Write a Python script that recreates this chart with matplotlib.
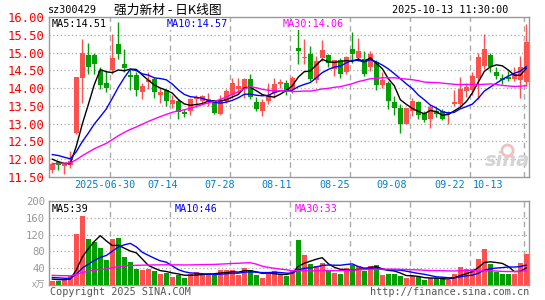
#强力新材 日K线图 (sina 风格)

import numpy as np
import pandas as pd
import matplotlib.pyplot as plt

# datos: 2025-06-16 .. 2025-10-13 (80 dias)
opens = [11.70, 11.92, 11.82, 11.84, 12.75, 14.28, 14.92, 14.92, 14.48, 14.15,
         14.51, 15.24, 14.69, 14.37, 14.37, 13.90, 14.17, 14.27, 13.82, 13.94,
         13.54, 13.65, 13.34, 13.35, 13.70, 13.64, 13.61, 13.64, 13.27, 13.64,
         13.82, 13.97, 13.97, 14.25, 13.62, 13.35, 13.64, 13.87, 14.11, 14.15,
         13.97, 15.14, 14.84, 14.95, 14.24, 14.86, 14.93, 14.53, 14.78, 14.45,
         15.10, 14.86, 14.83, 14.58, 14.74, 14.08, 14.15, 13.62, 13.43, 13.00,
         13.37, 13.61, 13.31, 13.12, 13.35, 13.37, 13.26, 13.56, 13.54, 13.92,
         13.95, 14.29, 14.62, 14.93, 14.44, 14.29, 14.31, 14.25, 14.22, 14.18]
highs = [11.92, 11.96, 11.90, 12.22, 14.32, 15.37, 15.26, 15.00, 14.58, 14.48,
         15.52, 15.85, 15.10, 14.53, 14.44, 14.15, 14.46, 14.30, 14.01, 13.97,
         13.82, 13.68, 13.40, 13.73, 13.80, 13.80, 13.86, 13.66, 13.82, 13.97,
         14.28, 14.29, 14.29, 14.41, 13.75, 13.68, 14.15, 14.29, 14.25, 14.22,
         14.34, 15.78, 15.38, 15.19, 14.91, 15.35, 14.95, 14.80, 14.84, 14.91,
         15.57, 15.42, 15.05, 15.05, 14.78, 14.44, 14.20, 13.78, 13.54, 13.45,
         13.71, 13.65, 13.35, 13.52, 13.47, 13.40, 13.35, 13.95, 14.32, 14.15,
         14.44, 15.00, 15.51, 15.00, 14.58, 14.39, 14.48, 14.58, 14.91, 15.80]
lows = [11.62, 11.70, 11.58, 11.76, 12.72, 13.59, 14.39, 14.41, 13.98, 13.90,
        14.39, 14.81, 14.46, 13.94, 13.78, 13.69, 13.97, 13.73, 13.59, 13.50,
        13.43, 13.12, 13.18, 13.23, 13.47, 13.58, 13.49, 13.26, 13.25, 13.58,
        13.73, 13.87, 13.73, 13.68, 13.35, 13.21, 13.56, 13.73, 14.01, 13.80,
        13.87, 14.69, 14.69, 14.20, 14.14, 14.77, 14.60, 14.34, 14.28, 14.39,
        14.72, 14.77, 14.34, 14.48, 13.94, 14.01, 13.40, 13.24, 12.74, 12.98,
        13.21, 13.12, 13.05, 12.88, 13.19, 13.10, 12.99, 13.50, 13.49, 13.74,
        13.82, 13.70, 14.55, 14.44, 14.25, 14.11, 14.20, 14.20, 13.71, 14.06]
closes = [11.86, 11.85, 11.86, 11.96, 14.30, 14.98, 14.58, 14.67, 14.08, 13.99,
          14.86, 14.95, 14.56, 14.32, 13.94, 14.07, 14.22, 13.90, 13.88, 13.64,
          13.66, 13.32, 13.28, 13.68, 13.76, 13.77, 13.70, 13.31, 13.66, 13.92,
          14.15, 14.06, 14.25, 13.75, 13.42, 13.62, 13.82, 14.12, 14.17, 13.92,
          14.29, 15.05, 14.88, 14.27, 14.77, 15.07, 14.72, 14.78, 14.41, 14.88,
          14.97, 15.05, 14.41, 14.97, 14.08, 14.22, 13.64, 13.43, 13.00, 13.43,
          13.64, 13.23, 13.09, 13.47, 13.26, 13.14, 13.33, 13.61, 13.98, 14.04,
          14.35, 14.87, 15.11, 14.60, 14.34, 14.22, 14.27, 14.39, 14.58, 15.31]
# volumen en 万
volumes = [10, 10, 15, 21, 122, 165, 109, 102, 89, 60,
           110, 112, 67, 55, 39, 36, 37, 33, 26, 29,
           19, 25, 17, 27, 31, 25, 28, 23, 35, 36,
           36, 23, 40, 35, 23, 17, 27, 33, 27, 21,
           34, 107, 71, 50, 45, 52, 35, 29, 26, 40,
           47, 45, 33, 45, 47, 23, 26, 26, 21, 16,
           21, 18, 12, 16, 16, 14, 13, 26, 43, 39,
           37, 63, 86, 51, 31, 26, 26, 26, 53, 74]

# historia previa estimada (solo para arrancar las medias moviles)
prev_close = [11.60, 11.65, 11.70, 11.62, 11.58, 11.66, 11.72, 11.80, 11.75, 11.70,
              11.68, 11.74, 11.80, 11.85, 11.78, 11.82, 11.88, 11.84, 11.80, 11.90,
              12.10, 12.35, 12.40, 12.30, 12.15, 12.20, 12.10, 12.00, 11.84]
prev_vol = [28, 24, 30, 26, 22, 27, 25, 29, 23, 26, 24, 28, 25, 22, 27, 26, 24, 25, 23, 26,
            20, 25, 24, 22, 19, 16, 15, 14, 15]

date_ticks = [10, 20, 30, 40, 50, 60, 70, 79]
date_labels = ['2025-06-30', '07-14', '07-28', '08-11', '08-25', '09-08', '09-22', '10-13']
price_ticks = [11.5, 12.0, 12.5, 13.0, 13.5, 14.0, 14.5, 15.0, 15.5, 16.0]
vol_ticks = [40, 80, 120, 160, 200]
ma_price_txt = ['MA5:14.51', 'MA10:14.57', 'MA30:14.06']
ma_vol_txt = ['MA5:39', 'MA10:46', 'MA30:33']

# posiciones de las etiquetas de fecha (en indices), como en la imagen
date_label_x = [8.8, 18.4, 27.9, 37.45, 47.1, 56.6, 66.3, 72.6]

ROJO = '#ff5050'
VERDE = '#00a000'
ma_colores = ['black', '#0000ff', '#ff00ff']
GRIS = '#999999'
MONO = 'DejaVu Sans Mono'
CJK = ['Noto Sans CJK SC', 'DejaVu Sans']

n = len(closes)
x = np.arange(n)
o = np.array(opens); c = np.array(closes); h = np.array(highs); l = np.array(lows)
v = np.array(volumes)
sube = c >= o
col = np.where(sube, ROJO, VERDE)

cc = pd.Series(prev_close + closes)
vv = pd.Series(prev_vol + volumes)
k = len(prev_close)
ma_p = [cc.rolling(w, min_periods=1).mean().values[k:] for w in (5, 10, 30)]
ma_v = [vv.rolling(w, min_periods=1).mean().values[k:] for w in (5, 10, 30)]

fig = plt.figure(figsize=(5.45, 3.0), dpi=100)
fig.patch.set_facecolor('white')
izq, ancho = 49 / 545, 480 / 545
ax = fig.add_axes([izq, 1 - 177 / 300, ancho, 160 / 300])
axv = fig.add_axes([izq, 1 - 285 / 300, ancho, 84 / 300])

for a in (ax, axv):
    a.set_xlim(-0.55, n - 0.55)
    for s in a.spines.values():
        s.set_color(GRIS)
        s.set_linewidth(1)
    a.tick_params(length=0)
    a.set_xticks([])
    for d in date_ticks:
        a.axvline(d - 0.38, color='#aaaaaa', lw=1, ls=(0, (4, 3)), zorder=0)

# ---- precio
ax.set_ylim(11.5, 16.0)
ax.set_yticks(price_ticks)
ax.set_yticklabels(['%.2f' % t for t in price_ticks], color='red', family=MONO, fontsize=8.8)
ax.tick_params(axis='y', pad=3)
for t in price_ticks[1:-1]:
    ax.axhline(t, color='#aaaaaa', lw=0.9, ls=(0, (1, 2)), zorder=0)

ax.vlines(x, l, h, colors=col, lw=1, zorder=2)
cuerpo = np.maximum(np.abs(c - o), 0.02)
ax.bar(x, cuerpo, bottom=np.minimum(o, c), width=0.75, color=col, lw=0, zorder=3)
for m, cl in zip(ma_p, ma_colores):
    ax.plot(x, m, color=cl, lw=1, zorder=4)

for txt, cl, px in zip(ma_price_txt, ma_colores, [52, 167, 283]):
    ax.text((px - 49) / 480, 0.985, txt, transform=ax.transAxes, color=cl,
            family=MONO, fontsize=7.3, va='top', ha='left', zorder=6,
            bbox=dict(fc='white', ec='none', pad=0.3))

ax.text(0.955, 0.105, 'sina', transform=ax.transAxes, color='#d4d4d4',
        fontsize=14, fontweight='bold', style='italic', ha='center', va='center', zorder=1)
ax.plot([0.955], [0.17], 'o', transform=ax.transAxes, ms=8, mfc='none',
        mec='#f0c0c0', mew=2, zorder=1)

for d, lab in zip(date_label_x, date_labels):
    ax.text(d, -0.02, lab, transform=ax.get_xaxis_transform(), color='#0080c8',
            family=MONO, fontsize=7.3, ha='center', va='top')

# ---- volumen
axv.set_ylim(0, 200)
axv.set_yticks(vol_ticks)
axv.set_yticklabels([str(t) for t in vol_ticks], color=GRIS, family=MONO, fontsize=7.6)
axv.tick_params(axis='y', pad=3)
for t in vol_ticks[:-1]:
    axv.axhline(t, color='#aaaaaa', lw=0.9, ls=(0, (1, 2)), zorder=0)
axv.bar(x, v, width=0.83, color=col, lw=0, zorder=3)
for m, cl in zip(ma_v, ma_colores):
    axv.plot(x, m, color=cl, lw=1, zorder=4)
for txt, cl, px in zip(ma_vol_txt, ma_colores, [52, 175, 295]):
    axv.text((px - 49) / 480, 0.97, txt, transform=axv.transAxes, color=cl,
             family=MONO, fontsize=7.3, va='top', ha='left', zorder=6,
             bbox=dict(fc='white', ec='none', pad=0.3))
axv.text(-0.008, 0.0, 'x万', transform=axv.transAxes, color=GRIS,
         family=CJK, fontsize=6.5, ha='right', va='center')

# ---- textos de cabecera y pie
fig.text(48 / 545, 1 - 10 / 300, 'sz300429', family=MONO, fontsize=7.3, va='center', ha='left')
fig.text(114 / 545, 1 - 10 / 300, '强力新材 - 日K线图', family=CJK,
         fontsize=9.2, va='center', ha='left')
fig.text(508 / 545, 1 - 10 / 300, '2025-10-13 11:30:00', family=MONO, fontsize=7.3,
         va='center', ha='right')
fig.text(50 / 545, 1 - 292 / 300, 'Copyright 2025 SINA.COM', family=MONO, fontsize=7.3,
         color='#555555', va='center', ha='left')
fig.text(529 / 545, 1 - 292 / 300, 'http://finance.sina.com.cn', family=MONO, fontsize=7.3,
         color='#555555', va='center', ha='right')

fig.savefig('out.png', dpi=100, facecolor='white')
